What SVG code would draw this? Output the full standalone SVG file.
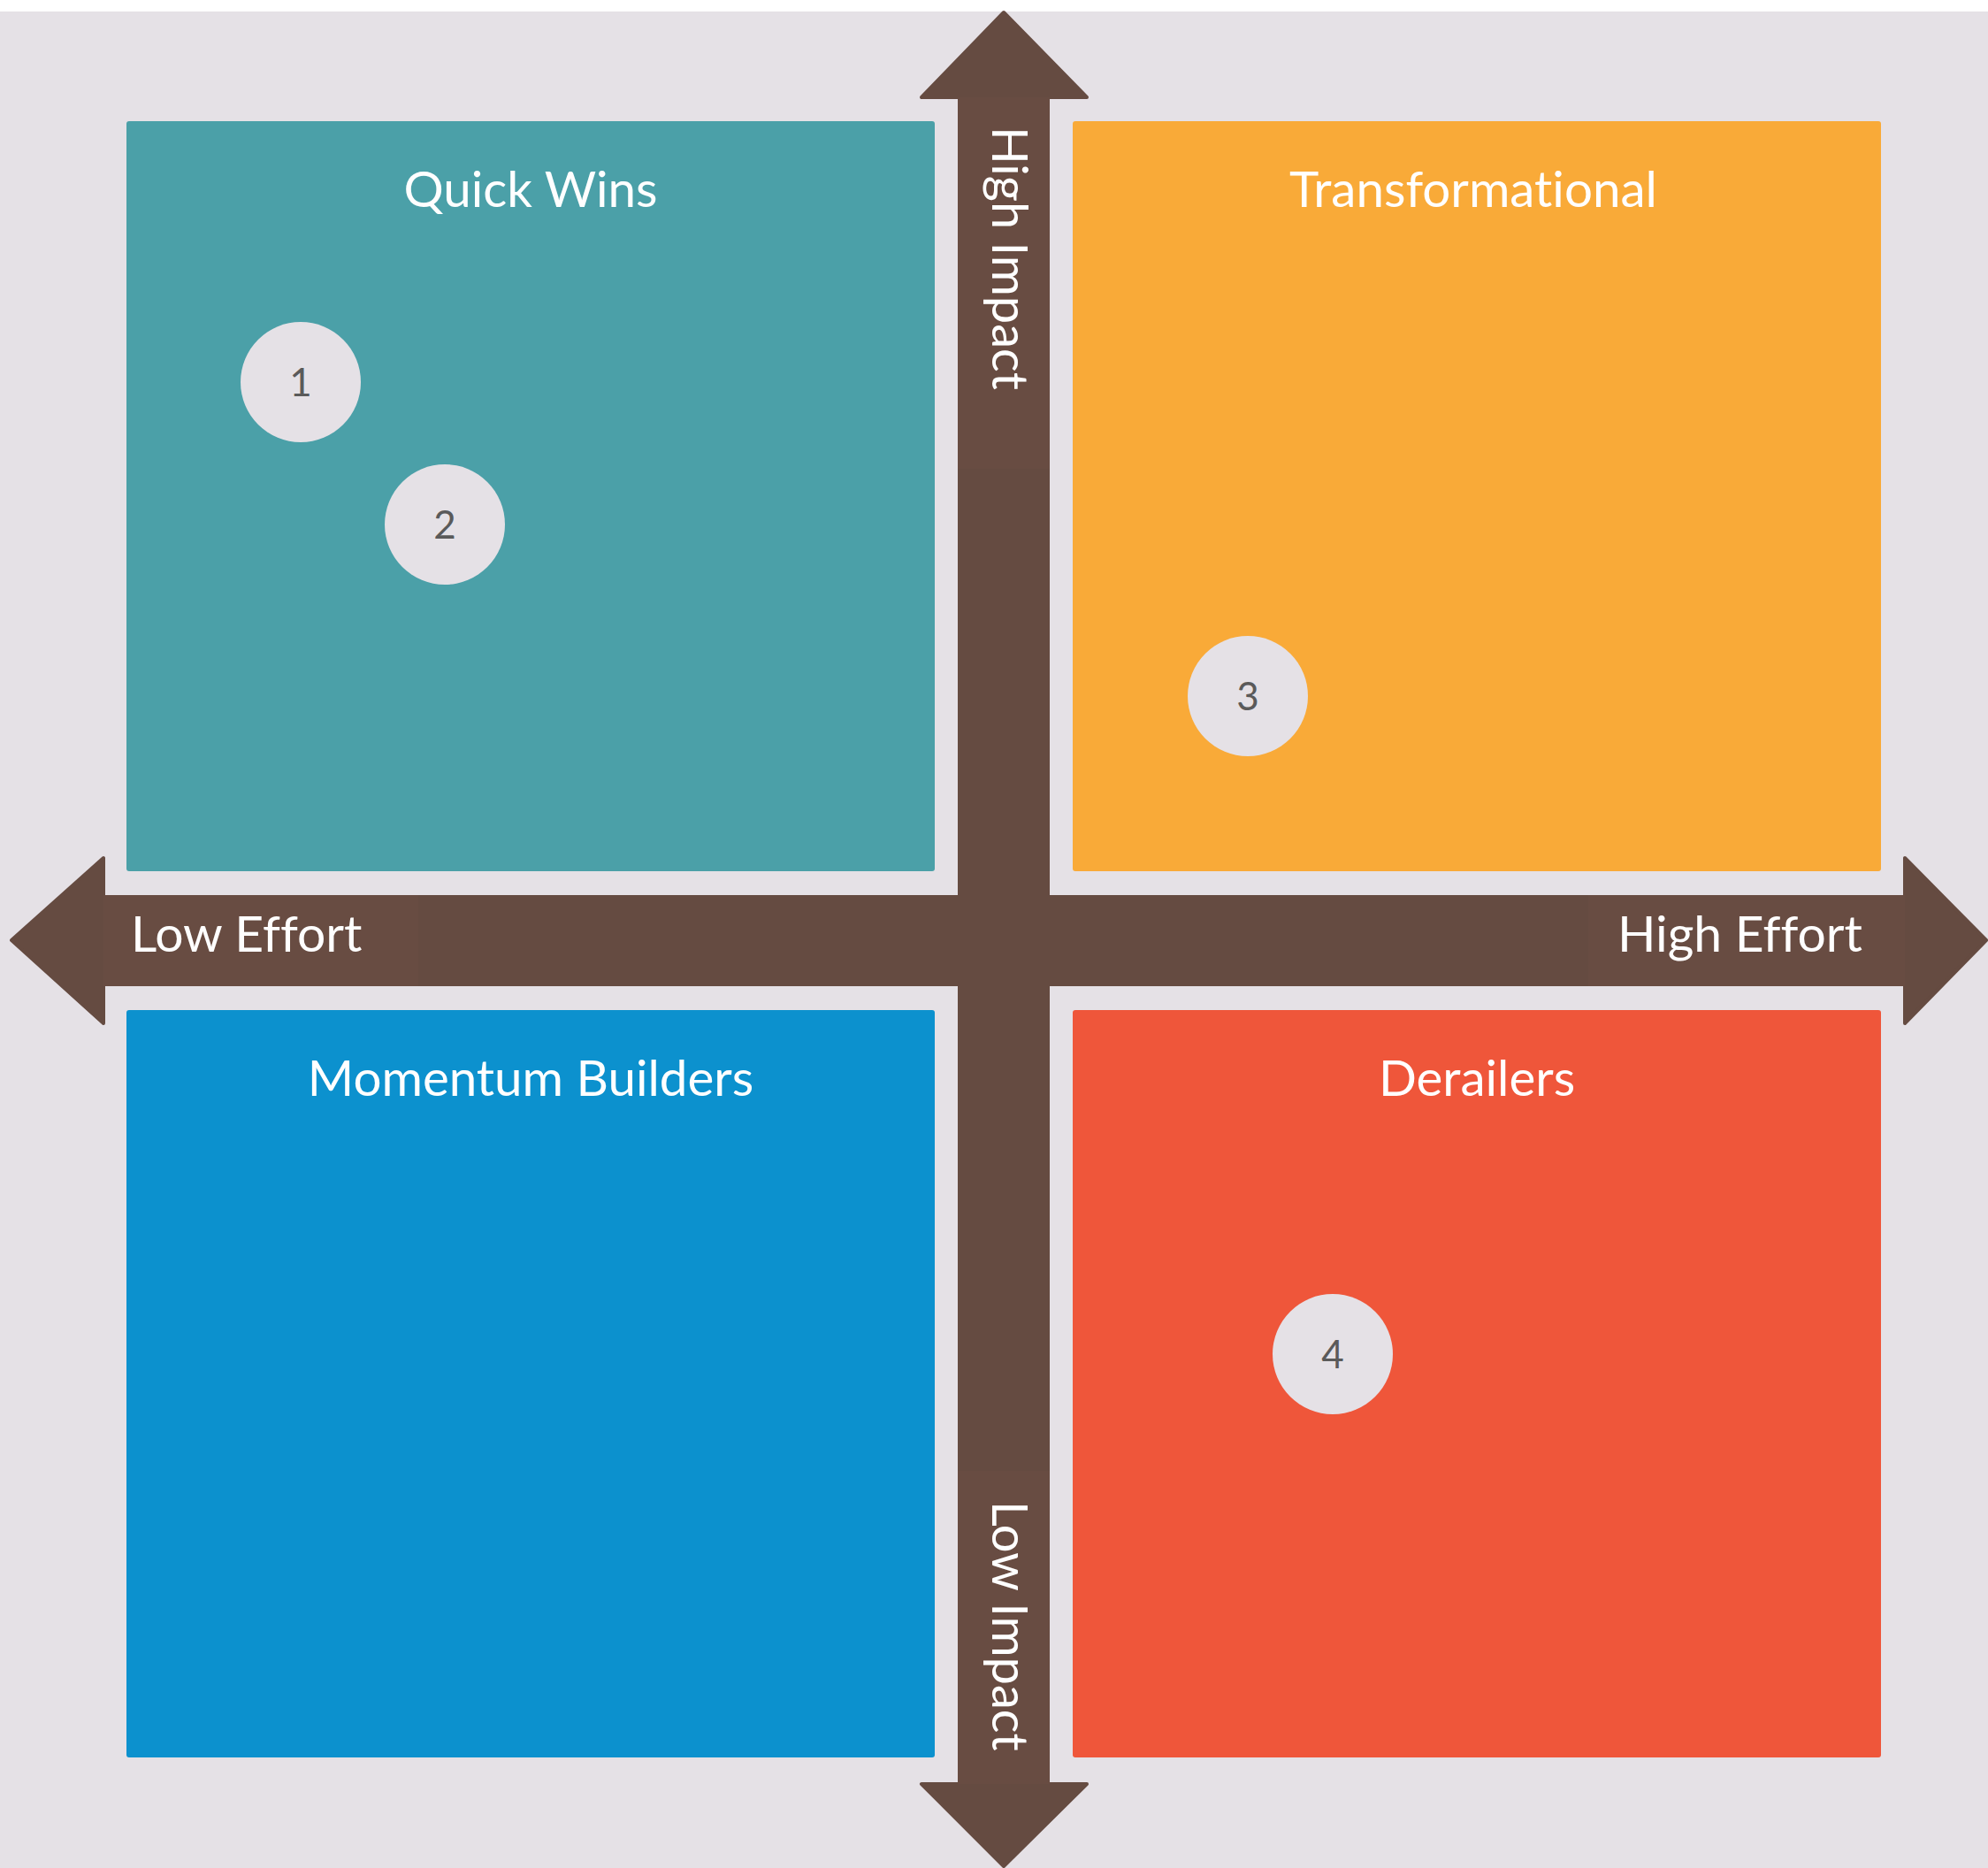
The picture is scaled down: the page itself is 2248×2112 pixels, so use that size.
<svg xmlns="http://www.w3.org/2000/svg" width="2248" height="2112" viewBox="0 0 2248 2112">
<style>
.quad{stroke:none}
.title{font-family:Lato,"Liberation Sans",sans-serif;font-size:56.5px;fill:#ffffff;text-anchor:middle;font-variant-ligatures:none}
.axis{font-family:Lato,"Liberation Sans",sans-serif;font-size:57px;fill:#ffffff;font-variant-ligatures:none}
.vaxis{font-size:56px}
.bar{fill:#654B41}
.lbl{fill:#684C42}
.dot{fill:#E5E1E6}
.num{font-family:Lato,"Liberation Sans",sans-serif;font-size:44px;fill:#5a5a5a;text-anchor:middle}
</style>
<rect x="0" y="0" width="2248" height="2112" fill="#E5E1E6"/>
<rect x="0" y="0" width="2248" height="13" fill="#ffffff"/>
<g id="q-quick-wins">
<rect class="quad" x="143" y="137" width="914" height="848" rx="3" fill="#4BA0A8"/>
<text class="title" x="600" y="234">Quick Wins</text>
</g>
<g id="q-transformational">
<rect class="quad" x="1213" y="137" width="914" height="848" rx="3" fill="#F9AA38"/>
<text class="title" x="1666" y="234">Transformational</text>
</g>
<g id="q-momentum">
<rect class="quad" x="143" y="1142" width="914" height="845" rx="3" fill="#0C91CE"/>
<text class="title" x="600" y="1239">Momentum Builders</text>
</g>
<g id="q-derailers">
<rect class="quad" x="1213" y="1142" width="914" height="845" rx="3" fill="#EF563A"/>
<text class="title" x="1670" y="1239">Derailers</text>
</g>
<g id="connectors">
<rect class="bar" x="110" y="1012" width="2051" height="103"/>
<rect class="bar" x="1083" y="105" width="104" height="1917"/>
<polygon class="bar" points="13,1063 117,970 117,1157" stroke="#654B41" stroke-width="4" stroke-linejoin="round"/>
<polygon class="bar" points="2246,1063 2154,970 2154,1157" stroke="#654B41" stroke-width="4" stroke-linejoin="round"/>
<polygon class="bar" points="1135,14 1042,110 1229,110" stroke="#654B41" stroke-width="4" stroke-linejoin="round"/>
<polygon class="bar" points="1135,2110 1042,2017 1229,2017" stroke="#654B41" stroke-width="4" stroke-linejoin="round"/>
<rect class="lbl" x="117" y="1012" width="356" height="103"/>
<rect class="lbl" x="1796" y="1012" width="358" height="103"/>
<rect class="lbl" x="1083" y="110" width="104" height="420"/>
<rect class="lbl" x="1083" y="1663" width="104" height="354"/>
<text class="axis" x="148" y="1076">Low Effort</text>
<text class="axis" x="2106" y="1076" text-anchor="end">High Effort</text>
<text class="axis vaxis" transform="translate(1122,143) rotate(90)" x="0" y="0">High Impact</text>
<text class="axis vaxis" transform="translate(1122,1697) rotate(90)" x="0" y="0">Low Impact</text>
</g>
<g id="item-1"><circle class="dot" cx="340" cy="432" r="68"/><text class="num" x="340" y="448">1</text></g>
<g id="item-2"><circle class="dot" cx="503" cy="593" r="68"/><text class="num" x="503" y="609">2</text></g>
<g id="item-3"><circle class="dot" cx="1411" cy="787" r="68"/><text class="num" x="1411" y="803">3</text></g>
<g id="item-4"><circle class="dot" cx="1507" cy="1531" r="68"/><text class="num" x="1507" y="1547">4</text></g>
</svg>
